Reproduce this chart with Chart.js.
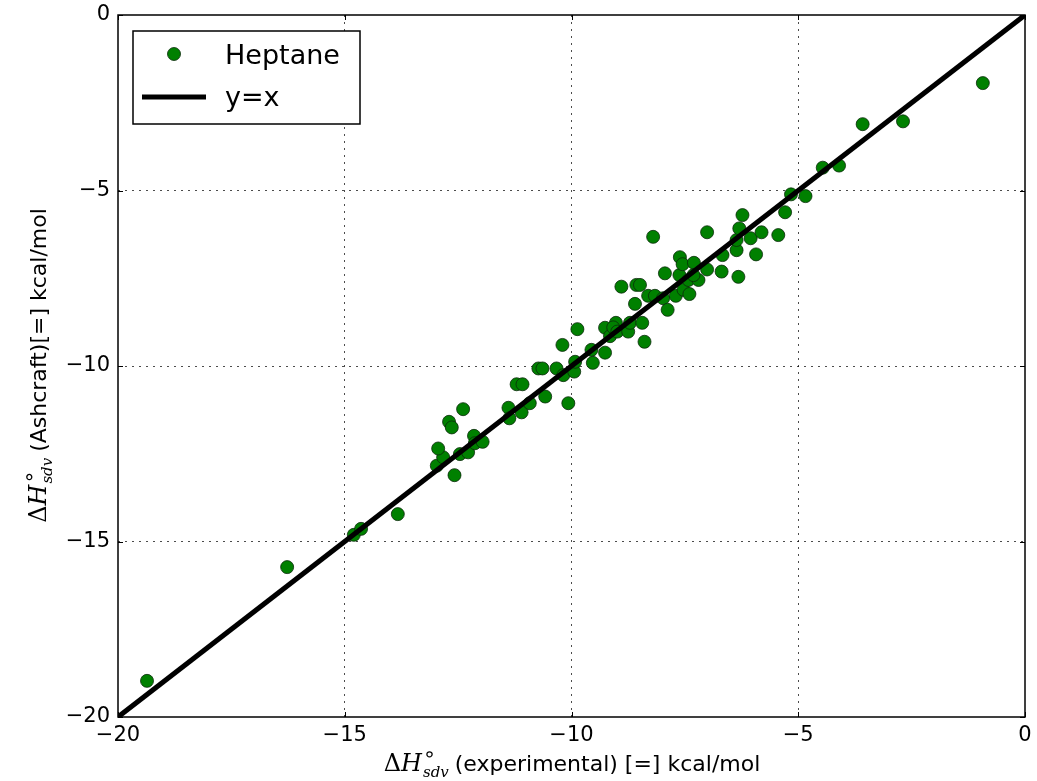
<!DOCTYPE html>
<html>
<head>
<meta charset="utf-8">
<script src="https://cdn.jsdelivr.net/npm/chart.js@4"></script>
<style>
    body { margin: 0; background: #fff; }
    #wrap { width: 1037px; height: 781px; }
</style>
</head>
<body>
<div id="wrap"><canvas id="chart" width="1037" height="781"></canvas></div>
<script>
// experimental vs Ashcraft, kcal/mol
var expValues = [-19.36, -16.27, -14.80, -14.64, -13.83, -12.58, -12.97, -12.83, -12.94, -12.46,
    -12.28, -12.15, -12.13, -11.96, -12.70, -12.64, -12.39, -11.39, -11.37, -11.10,
    -10.92, -10.58, -11.21, -11.08, -10.07, -10.73, -10.64, -10.33, -10.18, -9.94,
    -9.92, -10.20, -9.87, -9.53, -9.56, -9.26, -9.26, -9.15, -9.02, -9.08,
    -8.99, -8.75, -8.71, -8.44, -8.39, -8.60, -8.90, -8.57, -8.49, -8.31,
    -8.16, -7.98, -8.20, -7.88, -7.94, -7.70, -7.62, -7.53, -7.40, -7.61,
    -7.55, -7.30, -7.42, -7.20, -7.31, -7.01, -7.01, -6.69, -6.67, -6.36,
    -6.32, -6.36, -6.30, -6.23, -6.05, -5.93, -5.81, -5.44, -5.29, -5.16,
    -4.84, -4.46, -4.10, -3.58, -2.69, -0.93];
var ashValues = [-18.97, -15.73, -14.81, -14.64, -14.22, -13.11, -12.84, -12.60, -12.35, -12.51,
    -12.46, -11.99, -12.20, -12.16, -11.59, -11.75, -11.23, -11.19, -11.49, -11.32,
    -11.06, -10.87, -10.52, -10.52, -11.06, -10.07, -10.07, -10.07, -10.26, -10.16,
    -9.88, -9.40, -8.95, -9.91, -9.54, -9.62, -8.91, -9.15, -8.77, -8.90,
    -9.02, -9.02, -8.77, -8.77, -9.31, -8.23, -7.74, -7.69, -7.69, -8.00,
    -8.00, -8.07, -6.32, -8.40, -7.36, -8.00, -7.41, -7.83, -7.95, -6.90,
    -7.10, -7.06, -7.55, -7.55, -7.41, -7.25, -6.19, -7.31, -6.84, -6.70,
    -7.46, -6.41, -6.08, -5.70, -6.36, -6.82, -6.19, -6.27, -5.62, -5.11,
    -5.16, -4.35, -4.29, -3.11, -3.03, -1.94];
var lineX = [-20, 0];
var lineY = [-20, 0];
var axisTicks = [-20, -15, -10, -5, 0];

var seriesName = 'Heptane';
var lineName = 'y=x';
var xTitle = '(experimental) [=] kcal/mol';
var yTitle = '(Ashcraft)[=] kcal/mol';

var scatterPts = expValues.map(function (v, i) { return { x: v, y: ashValues[i] }; });
var linePts = lineX.map(function (v, i) { return { x: v, y: lineY[i] }; });

function minus(v) {
    return String(v).replace('-', '\u2212');
}

// ΔH°_sdv followed by plain text, drawn from (x, y) baseline
function measureLabel(ctx, rest) {
    ctx.font = 'italic 24px "DejaVu Serif"';
    var w = ctx.measureText('\u0394H').width;
    ctx.font = 'italic 15px "DejaVu Serif"';
    w += ctx.measureText('sdv').width + 6;
    ctx.font = '22px "DejaVu Sans"';
    w += ctx.measureText(rest).width;
    return w;
}

function drawLabel(ctx, rest, x, y) {
    ctx.textAlign = 'left';
    ctx.textBaseline = 'alphabetic';
    ctx.fillStyle = '#000';
    ctx.font = '24px "DejaVu Serif"';
    ctx.fillText('\u0394', x, y);
    var dw = ctx.measureText('\u0394').width;
    ctx.font = 'italic 24px "DejaVu Serif"';
    ctx.fillText('H', x + dw, y);
    var hw = ctx.measureText('H').width;
    var sx = x + dw + hw + 1;
    ctx.font = '21px "DejaVu Sans"';
    ctx.fillText('\u2218', sx, y - 10);
    ctx.font = 'italic 15px "DejaVu Serif"';
    ctx.fillText('sdv', sx, y + 6);
    var sw = ctx.measureText('sdv').width;
    ctx.font = '22px "DejaVu Sans"';
    ctx.fillText(rest, sx + sw + 6, y);
}

var framePlugin = {
    id: 'frame',
    afterDraw: function (chart) {
        var ctx = chart.ctx;
        var a = chart.chartArea;
        var xs = chart.scales.x, ys = chart.scales.y;
        ctx.save();

        // inward tick marks on all four sides
        ctx.strokeStyle = '#000';
        ctx.lineWidth = 1;
        ctx.beginPath();
        axisTicks.forEach(function (t) {
            var px = Math.round(xs.getPixelForValue(t)) + 0.5;
            var py = Math.round(ys.getPixelForValue(t)) + 0.5;
            ctx.moveTo(px, a.bottom); ctx.lineTo(px, a.bottom - 5);
            ctx.moveTo(px, a.top); ctx.lineTo(px, a.top + 5);
            ctx.moveTo(a.left, py); ctx.lineTo(a.left + 5, py);
            ctx.moveTo(a.right, py); ctx.lineTo(a.right - 5, py);
        });
        ctx.stroke();

        ctx.lineWidth = 1.5;
        ctx.strokeRect(a.left, a.top, a.right - a.left, a.bottom - a.top);

        // legend box
        var lx = 133, ly = 31, lw = 227, lh = 93;
        ctx.fillStyle = '#fff';
        ctx.fillRect(lx, ly, lw, lh);
        ctx.lineWidth = 1.5;
        ctx.strokeStyle = '#000';
        ctx.strokeRect(lx, ly, lw, lh);
        var ds0 = chart.data.datasets[1], ds1 = chart.data.datasets[0];
        ctx.beginPath();
        ctx.arc(174, 54, 6.5, 0, Math.PI * 2);
        ctx.fillStyle = ds0.backgroundColor;
        ctx.fill();
        ctx.lineWidth = 0.8;
        ctx.strokeStyle = ds0.borderColor;
        ctx.stroke();
        ctx.beginPath();
        ctx.moveTo(142, 97);
        ctx.lineTo(206, 97);
        ctx.lineWidth = ds1.borderWidth;
        ctx.strokeStyle = ds1.borderColor;
        ctx.stroke();
        ctx.fillStyle = '#000';
        ctx.font = '27px "DejaVu Sans"';
        ctx.textAlign = 'left';
        ctx.textBaseline = 'alphabetic';
        ctx.fillText(ds0.label, 225, 64);
        ctx.fillText(ds1.label, 225, 106);

        // axis titles
        var cx = (a.left + a.right) / 2;
        var w = measureLabel(ctx, xTitle);
        drawLabel(ctx, xTitle, cx - w / 2, 771);

        var cy = (a.top + a.bottom) / 2;
        var wy = measureLabel(ctx, yTitle);
        ctx.translate(46, cy + wy / 2);
        ctx.rotate(-Math.PI / 2);
        drawLabel(ctx, yTitle, 0, 0);
        ctx.restore();
    }
};

function gridColor(c) {
    if (c.tick && (c.tick.value === -20 || c.tick.value === 0)) return 'rgba(0,0,0,0)';
    return 'rgba(0,0,0,0.7)';
}

new Chart(document.getElementById('chart'), {
    type: 'scatter',
    data: {
        datasets: [{
            type: 'line',
            label: lineName,
            data: linePts,
            borderColor: '#000',
            borderWidth: 5,
            pointRadius: 0,
            fill: false,
            order: 0
        }, {
            label: seriesName,
            data: scatterPts,
            backgroundColor: '#008000',
            borderColor: '#0a2a0a',
            borderWidth: 0.8,
            pointRadius: 6.5,
            pointHoverRadius: 6.5,
            order: 1
        }]
    },
    options: {
        responsive: false,
        animation: false,
        layout: { padding: { top: 15, right: 12, left: 0, bottom: 0 } },
        plugins: { legend: { display: false }, tooltip: { enabled: false } },
        scales: {
            x: {
                type: 'linear', min: -20, max: 0,
                afterFit: function (s) { s.height = 64; s.paddingLeft = 0; s.paddingRight = 0; },
                ticks: {
                    stepSize: 5, padding: 6, color: '#000',
                    font: { family: 'DejaVu Sans', size: 21 },
                    callback: function (v) { return minus(v); }
                },
                grid: { color: gridColor, lineWidth: 1, drawTicks: false },
                border: { display: false, dash: [2, 5] }
            },
            y: {
                type: 'linear', min: -20, max: 0,
                afterFit: function (s) { s.width = 118; s.paddingTop = 0; s.paddingBottom = 0; },
                ticks: {
                    stepSize: 5, padding: 8, color: '#000',
                    font: { family: 'DejaVu Sans', size: 21 },
                    callback: function (v) { return minus(v); }
                },
                grid: { color: gridColor, lineWidth: 1, drawTicks: false },
                border: { display: false, dash: [2, 5] }
            }
        }
    },
    plugins: [framePlugin]
});
</script>
</body>
</html>
